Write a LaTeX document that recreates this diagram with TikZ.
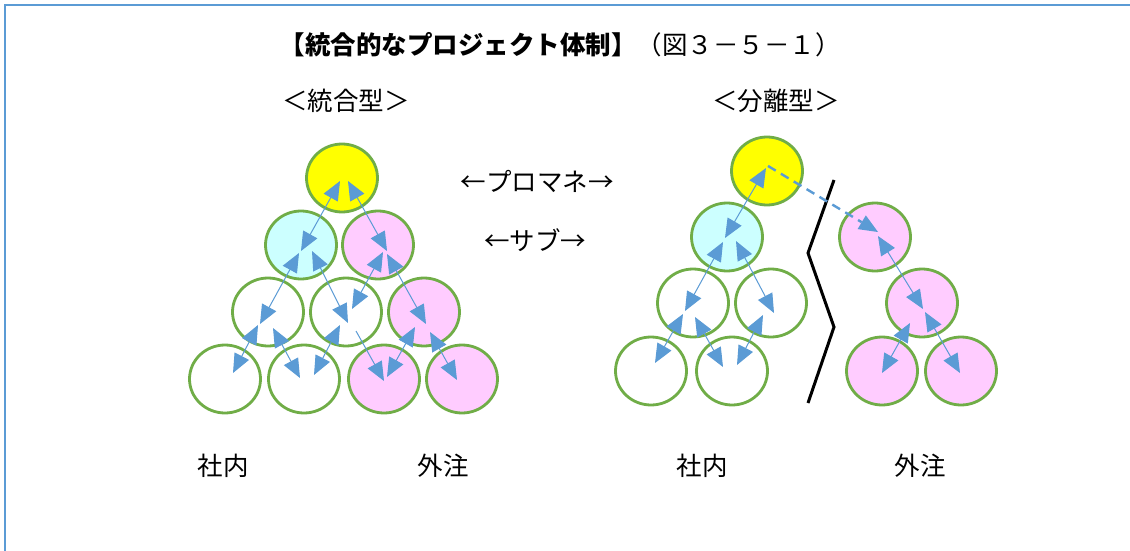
\documentclass[tikz,border=0pt]{standalone}
\usepackage{fontspec}
\setmainfont{Noto Sans CJK JP}
\usetikzlibrary{shapes.geometric,arrows.meta}
\definecolor{frameblue}{HTML}{5B9BD5}
\definecolor{arrblue}{HTML}{5B9BD5}
\definecolor{ringgreen}{HTML}{70AD47}
\definecolor{pyellow}{HTML}{FFFF00}
\definecolor{pcyan}{HTML}{CCFFFF}
\definecolor{ppink}{HTML}{FFCCFF}
\tikzset{
  member/.style={ellipse, draw=ringgreen, line width=2.8pt, minimum width=71pt, minimum height=68pt, inner sep=0pt, fill=white},
  pm/.style={member, fill=pyellow},
  sub/.style={member, fill=pcyan},
  ext/.style={member, fill=ppink},
  tip/.tip={Triangle[length=19pt,width=16pt]},
  link/.style={draw=arrblue, line width=1pt, tip-tip},
  onelink/.style={draw=arrblue, line width=1pt, -tip},
  dashlink/.style={draw=arrblue, line width=2.4pt, dash pattern=on 9pt off 6pt, -{Triangle[length=19pt,width=16pt,line width=0pt]}},
  label/.style={font=\fontsize{25.5}{28}\selectfont, inner sep=0pt},
}
\begin{document}
\begin{tikzpicture}[x=1pt,y=-1pt]
\useasboundingbox (0,0) rectangle (1130,551);
\fill[white] (0,0) rectangle (1130,551);
\draw[frameblue, line width=2.6pt] (5,551) -- (5,5) -- (1130,5);

% texts
\node[label] (title) at (560,45) {{\bfseries 【統合的なプロジェクト体制】}（図３－５－１）};
\node[label] (tl) at (346,101) {＜統合型＞};
\node[label] (tr) at (776,101) {＜分離型＞};
\node[label] (pmtext) at (537,181) {←プロマネ→};
\node[label] (subtext) at (535,240) {←サブ→};
\node[label] (in1) at (223,466) {社内};
\node[label] (out1) at (443,466) {外注};
\node[label] (in2) at (702,466) {社内};
\node[label] (out2) at (920,466) {外注};

% left: integrated
\node[pm]  (LY)  at (342,178) {};
\node[sub] (LC)  at (301,245) {};
\node[ext] (LP)  at (378,245) {};
\node[member] (L31) at (268,312) {};
\node[member] (L32) at (346,312) {};
\node[ext] (L33) at (424,312) {};
\node[member] (L41) at (225,379) {};
\node[member] (L42) at (304,379) {};
\node[ext] (L43) at (384,379) {};
\node[ext] (L44) at (462,379) {};

\draw[link] ([shift={(-2,3)}]LY.center) -- ([shift={(0,6)}]LC.center);
\draw[link] ([shift={(6,3)}]LY.center) -- ([shift={(9,6)}]LP.center);
\draw[link] ([shift={(-2,8)}]LC.center) -- ([shift={(-8,12)}]L31.center);
\draw[link] ([shift={(11,6)}]LC.center) -- ([shift={(2,11)}]L32.center);
\draw[link] ([shift={(5,7)}]LP.center) -- ([shift={(6,-3)}]L32.center);
\draw[link] ([shift={(9,9)}]LP.center) -- ([shift={(2,12)}]L33.center);
\draw[link] ([shift={(-10,13)}]L31.center) -- ([shift={(8,-6)}]L41.center);
\draw[link] ([shift={(5,16)}]L31.center) -- ([shift={(-4,-1)}]L42.center);
\draw[link] ([shift={(-6,13)}]L32.center) -- ([shift={(10,-4)}]L42.center);
\draw[onelink] ([shift={(10,19)}]L32.center) -- ([shift={(0,2)}]L43.center);
\draw[link] ([shift={(-9,15)}]L33.center) -- ([shift={(3,-2)}]L43.center);
\draw[link] ([shift={(6,20)}]L33.center) -- ([shift={(-5,1)}]L44.center);

% right: separated
\node[pm]  (RY)  at (767,171) {};
\node[sub] (RC)  at (727,237) {};
\node[member] (R31) at (693,303) {};
\node[member] (R32) at (771,303) {};
\node[member] (R41) at (651,371) {};
\node[member] (R42) at (732,371) {};
\node[ext] (RP1) at (875,237) {};
\node[ext] (RP2) at (922,303) {};
\node[ext] (RP3) at (882,371) {};
\node[ext] (RP4) at (961,371) {};

\draw[link] ([shift={(-1,-3)}]RY.center) -- ([shift={(-2,1)}]RC.center);
\draw[link] ([shift={(-4,5)}]RC.center) -- ([shift={(-8,8)}]R31.center);
\draw[link] ([shift={(9,4)}]RC.center) -- ([shift={(3,10)}]R32.center);
\draw[link] ([shift={(-10,11)}]R31.center) -- ([shift={(4,-8)}]R41.center);
\draw[link] ([shift={(2,14)}]R31.center) -- ([shift={(-9,-4)}]R42.center);
\draw[link] ([shift={(-8,12)}]R32.center) -- ([shift={(5,-6)}]R42.center);
\draw[link] ([shift={(3,-1)}]RP1.center) -- ([shift={(1,6)}]RP2.center);
\draw[link] ([shift={(-12,20)}]RP2.center) -- ([shift={(0,2)}]RP3.center);
\draw[link] ([shift={(3,9)}]RP2.center) -- ([shift={(-1,2)}]RP4.center);

% zigzag separator
\coordinate (z1) at (834,180);
\coordinate (z2) at (808,253);
\coordinate (z3) at (834,327);
\coordinate (z4) at (808,403);
\draw[black, line width=3pt, line join=miter] (z1) -- (z2) -- (z3) -- (z4);

\draw[dashlink] ([shift={(1,-5)}]RY.center) -- ([shift={(3,-5)}]RP1.center);
\end{tikzpicture}
\end{document}
